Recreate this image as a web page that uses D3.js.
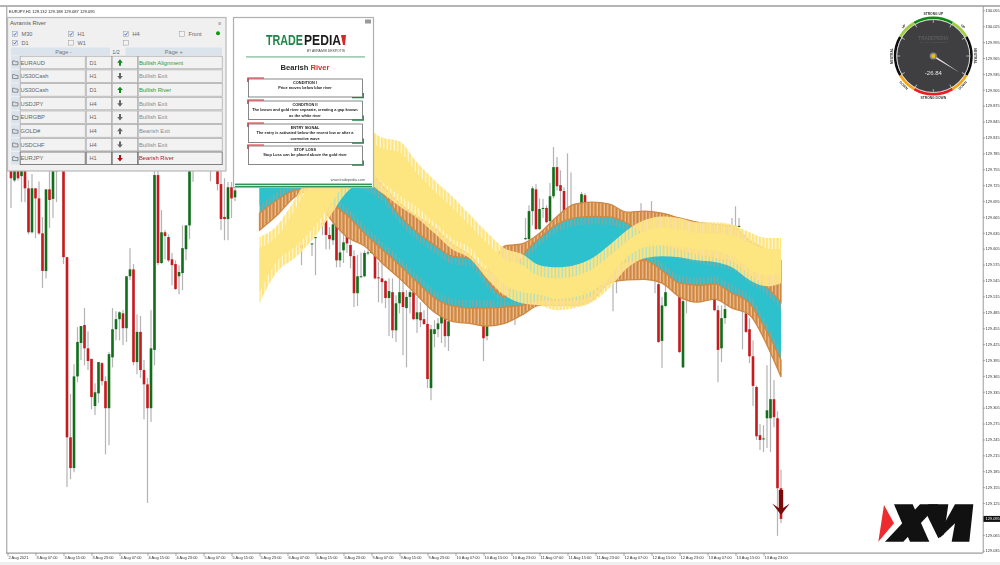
<!DOCTYPE html>
<html><head><meta charset="utf-8">
<script src="https://cdn.jsdelivr.net/npm/d3@7"></script>
<style>html,body{margin:0;padding:0;background:#fff;overflow:hidden}svg{display:block;filter:blur(.4px)}text{font-family:"Liberation Sans",Arial,sans-serif}</style>
</head><body><div id="c"></div>
<script>
// ---------- price axis and time axis labels ----------
const priceTicks=[130.055,130.025,129.995,129.965,129.935,129.905,129.875,129.845,129.815,129.785,129.755,129.725,129.695,129.665,129.635,129.605,129.575,129.545,129.515,129.485,129.455,129.425,129.395,129.365,129.335,129.305,129.275,129.245,129.215,129.185,129.155,129.125,129.065,129.035];
const lastPrice=129.095;
const timeLabels=["2 Aug 2021","3 Aug 07:00","3 Aug 15:00","3 Aug 23:00","4 Aug 07:00","4 Aug 15:00","4 Aug 23:00","5 Aug 07:00","5 Aug 15:00","5 Aug 23:00","6 Aug 07:00","6 Aug 15:00","6 Aug 23:00","9 Aug 07:00","9 Aug 15:00","9 Aug 23:00","10 Aug 07:00","10 Aug 15:00","10 Aug 23:00","11 Aug 07:00","11 Aug 15:00","11 Aug 23:00","12 Aug 07:00","12 Aug 15:00","12 Aug 23:00","13 Aug 07:00","13 Aug 15:00","13 Aug 23:00"];
const barsPerLabel=8;

// ---------- candles (bars hidden behind the panels are left out) ----------
const barIndex=[1,2,3,4,5,6,7,8,9,10,
11,12,13,14,16,17,18,19,20,21,
22,23,24,25,26,27,28,29,30,31,
32,33,34,35,36,37,38,39,40,41,
42,43,44,45,46,47,48,49,50,51,
52,53,58,60,61,62,63,64,65,84,
87,88,90,91,92,93,94,95,96,97,
98,99,100,101,102,103,104,105,106,107,
108,109,110,111,112,113,114,115,116,117,
118,119,120,121,122,123,124,125,126,136,
137,145,148,149,150,151,152,153,154,155,
156,157,158,159,160,161,164,165,173,174,
181,184,185,186,187,188,192,193,194,202,
203,204,205,207,208,209,210,211,212,213,
214,215,216,217,218,219,220,221];
const openP=[129.772,129.734,129.772,129.742,129.772,129.719,129.636,129.719,129.700,129.634,
129.563,129.717,129.699,129.751,129.772,129.589,129.249,129.191,129.364,129.427,
129.461,129.417,129.397,129.308,129.332,129.389,129.355,129.304,129.400,129.453,
129.472,129.483,129.455,129.553,129.566,129.391,129.448,129.376,129.349,129.304,
129.414,129.744,129.578,129.636,129.627,129.585,129.576,129.553,129.559,129.604,
129.649,129.768,129.768,129.772,129.727,129.665,129.661,129.721,129.702,129.612,
129.614,129.625,129.651,129.659,129.631,129.621,129.655,129.583,129.602,129.634,
129.612,129.591,129.521,129.551,129.553,129.597,129.597,129.597,129.551,129.549,
129.544,129.512,129.523,129.451,129.502,129.523,129.493,129.514,129.523,129.472,
129.485,129.472,129.463,129.342,129.444,129.453,129.464,129.472,129.440,129.463,
129.440,129.476,129.623,129.623,129.676,129.717,129.642,129.680,129.682,129.657,
129.704,129.759,129.725,129.714,129.680,129.683,129.691,129.706,129.544,129.544,
129.649,129.649,129.553,129.538,129.431,129.497,129.514,129.381,129.515,129.510,
129.489,129.417,129.474,129.638,129.646,129.646,129.487,129.483,129.453,129.402,
129.344,129.253,129.246,129.285,129.285,129.321,129.285,129.153];
const highP=[129.772,129.772,129.772,129.772,129.772,129.734,129.746,129.719,129.732,129.665,
129.717,129.772,129.772,129.772,129.772,129.589,129.331,129.387,129.457,129.459,
129.493,129.449,129.397,129.351,129.391,129.391,129.364,129.410,129.493,129.487,
129.487,129.489,129.553,129.606,129.576,129.481,129.478,129.395,129.361,129.489,
129.772,129.772,129.678,129.640,129.632,129.597,129.583,129.574,129.649,129.649,
129.772,129.772,129.772,129.772,129.753,129.738,129.731,129.731,129.719,129.621,
129.615,129.627,129.653,129.668,129.646,129.655,129.659,129.649,129.636,129.640,
129.621,129.602,129.593,129.598,129.602,129.602,129.608,129.602,129.580,129.583,
129.546,129.549,129.549,129.517,129.555,129.546,129.527,129.527,129.527,129.514,
129.504,129.489,129.502,129.461,129.470,129.474,129.483,129.483,129.474,129.470,
129.466,129.480,129.663,129.687,129.723,129.727,129.700,129.699,129.687,129.729,
129.797,129.778,129.753,129.721,129.785,129.749,129.712,129.710,129.555,129.555,
129.691,129.695,129.564,129.564,129.514,129.536,129.527,129.517,129.527,129.517,
129.498,129.498,129.508,129.663,129.685,129.663,129.493,129.498,129.474,129.432,
129.347,129.274,129.272,129.385,129.408,129.357,129.298,129.188];
const lowP=[129.682,129.731,129.734,129.693,129.693,129.632,129.634,129.625,129.631,129.531,
129.549,129.644,129.663,129.693,129.576,129.155,129.170,129.183,129.353,129.395,
129.385,129.376,129.302,129.291,129.314,129.347,129.217,129.234,129.381,129.432,
129.432,129.423,129.429,129.546,129.385,129.368,129.361,129.283,129.125,129.278,
129.385,129.574,129.576,129.585,129.580,129.536,129.527,129.519,129.527,129.583,
129.623,129.731,129.732,129.715,129.640,129.621,129.621,129.663,129.695,129.574,
129.591,129.555,129.631,129.604,129.604,129.612,129.570,129.570,129.578,129.597,
129.568,129.495,129.497,129.551,129.551,129.593,129.595,129.547,129.504,129.502,
129.493,129.440,129.436,129.429,129.483,129.404,129.381,129.483,129.470,129.446,
129.457,129.461,129.342,129.319,129.419,129.438,129.427,129.419,129.412,129.393,
129.432,129.461,129.621,129.621,129.649,129.640,129.640,129.663,129.653,129.653,
129.700,129.715,129.672,129.668,129.678,129.683,129.687,129.687,129.487,129.521,
129.649,129.649,129.521,129.427,129.380,129.495,129.408,129.380,129.483,129.487,
129.353,129.391,129.463,129.638,129.646,129.646,129.415,129.446,129.389,129.308,
129.244,129.225,129.221,129.229,129.221,129.268,129.063,129.087];
const closeP=[129.738,129.772,129.738,129.772,129.719,129.636,129.719,129.700,129.634,129.563,
129.717,129.697,129.772,129.772,129.589,129.249,129.191,129.364,129.429,129.459,
129.417,129.393,129.325,129.334,129.391,129.355,129.304,129.406,129.453,129.472,
129.485,129.455,129.553,129.566,129.391,129.448,129.376,129.349,129.304,129.417,
129.744,129.578,129.636,129.629,129.583,129.574,129.529,129.561,129.606,129.649,
129.772,129.772,129.772,129.727,129.661,129.661,129.721,129.700,129.715,129.606,
129.615,129.627,129.653,129.631,129.623,129.651,129.583,129.598,129.617,129.615,
129.591,129.521,129.553,129.553,129.597,129.598,129.600,129.549,129.549,129.542,
129.512,129.525,129.451,129.502,129.523,129.495,129.514,129.523,129.472,129.485,
129.470,129.463,129.359,129.453,129.453,129.464,129.478,129.440,129.468,129.436,
129.459,129.478,129.625,129.676,129.719,129.642,129.680,129.682,129.655,129.704,
129.759,129.723,129.714,129.672,129.682,129.685,129.708,129.691,129.546,129.546,
129.651,129.651,129.555,129.429,129.498,129.523,129.410,129.506,129.517,129.489,
129.414,129.474,129.491,129.640,129.648,129.648,129.489,129.448,129.402,129.346,
129.251,129.244,129.247,129.300,129.321,129.287,129.153,129.095];

// ---------- the river bands, read every few bars ----------
const riverBars=[72,77,82,87,92,97,102,107,112,117,122,127,132,137,142,147,152,157,162,167,172,177,182,187,192,197,202,207,212,217,221];
const goldTop=[129.627,129.649,129.697,129.753,129.791,129.829,129.832,129.815,129.808,129.768,129.734,129.704,129.670,129.636,129.606,129.595,129.574,129.570,129.574,129.587,129.612,129.640,129.659,129.666,129.663,129.655,129.655,129.651,129.636,129.625,129.625];
const goldBottom=[129.502,129.561,129.587,129.621,129.665,129.712,129.731,129.710,129.685,129.663,129.634,129.604,129.587,129.549,129.517,129.502,129.498,129.489,129.493,129.504,129.531,129.568,129.587,129.591,129.589,129.583,129.580,129.570,129.546,129.534,129.540];
const brownTop=[129.810,129.810,129.810,129.800,129.791,129.781,129.763,129.725,129.691,129.666,129.644,129.614,129.593,129.564,129.610,129.614,129.634,129.666,129.689,129.693,129.689,129.674,129.676,129.672,129.663,129.655,129.651,129.648,129.621,129.602,129.583];
const blueTop=[129.744,129.744,129.744,129.744,129.744,129.738,129.731,129.710,129.668,129.636,129.612,129.591,129.587,129.546,129.514,129.589,129.625,129.651,129.663,129.666,129.665,129.653,129.631,129.612,129.602,129.593,129.587,129.580,129.555,129.532,129.504];
const blueBottom=[129.672,129.697,129.715,129.719,129.693,129.668,129.634,129.604,129.574,129.542,129.512,129.497,129.493,129.493,129.495,129.498,129.508,129.508,129.508,129.517,129.564,129.580,129.583,129.564,129.540,129.536,129.538,129.521,129.502,129.448,129.395];
const brownBottom=[129.640,129.668,129.702,129.715,129.663,129.627,129.610,129.578,129.549,129.517,129.485,129.468,129.464,129.459,129.464,129.480,129.498,129.498,129.498,129.508,129.540,129.546,129.547,129.540,129.514,129.504,129.510,129.493,129.480,129.423,129.363];

// ---------- signal dashboard ----------
const frameRowsM=[["M30",true],["H1",true],["H4",true],["Front",false]];
const frameRowsD=[["D1",true],["W1",false],["",false]];
const symbols=["EURAUD","US30Cash","US30Cash","USDJPY","EURGBP","GOLD#","USDCHF","EURJPY"];
const timeframes=["D1","H1","D1","H4","H1","H4","H4","H1"];
const states=["Bullish Alignment","Bullish Exit","Bullish River","Bullish Exit","Bullish Exit","Bearish Exit","Bullish Exit","Bearish River"];
const directions=["up","down","up","down","down","up","down","down"];

// ---------- rules card ----------
const cardHeads=["CONDITION I","CONDITION II","ENTRY SIGNAL","STOP LOSS"];
const cardLines=[["Price moves below blue river"],["The brown and gold river separate, creating a gap known","as the white river"],["The entry is activated below the recent low or after a","corrective wave"],["Stop Loss can be placed above the gold river"]];

// ---------- sentiment gauge ----------
const gaugeValue=-26.84;
const gaugeZones=[[-30,30,"#0c8a12","STRONG UP"],[30,60,"#9ccf3c","UP"],[60,120,"#0d0d0d","NEUTRAL"],[120,150,"#f5a40c","DOWN"],[150,210,"#ee1c1c","STRONG DOWN"],[210,240,"#f5a40c","DOWN"],[240,300,"#0d0d0d","NEUTRAL"],[300,330,"#9ccf3c","UP"]];

const W=1000,H=565;
const svg=d3.select("#c").append("svg").attr("width",W).attr("height",H).attr("viewBox",[0,0,W,H]);
const x=d3.scaleLinear().domain([0,216]).range([7.5,763.5]);
const y=d3.scaleLinear().domain([129.035,130.055]).range([550.7,10.3]);
const pL=6.5,pR=983,pT=6.5,pB=553;

// hatch patterns, one bar per candle slot
const defs=svg.append("defs");
function hatch(id,bar,gap,bw){
  const p=defs.append("pattern").attr("id",id).attr("patternUnits","userSpaceOnUse").attr("width",x(1)-x(0)).attr("height",8).attr("x",x(0)-bw/2).attr("y",0);
  if(gap)p.append("rect").attr("width",x(1)-x(0)).attr("height",8).attr("fill",gap);
  p.append("rect").attr("width",bw).attr("height",8).attr("fill",bar);
}
hatch("hBrown","#cf8843","#f0c295",2.3);
hatch("hGold","#fde47c","rgba(255,244,196,.6)",2.3);
hatch("hBlue","#8fa69a","#2cc1cd",1.2);
defs.append("clipPath").attr("id","plot").append("rect").attr("x",pL).attr("y",pT).attr("width",pR-pL).attr("height",pB-pT);

// frame
svg.append("rect").attr("x",0).attr("y",5).attr("width",1000).attr("height",2).attr("fill","#b5b5b5");
svg.append("rect").attr("x",6).attr("y",6).attr("width",1.4).attr("height",pB-6).attr("fill","#b5b5b5");
svg.append("rect").attr("x",6).attr("y",pB-.5).attr("width",pR-6).attr("height",1.2).attr("fill","#9a9a9a");
svg.append("rect").attr("x",pR-.3).attr("y",6).attr("width",1).attr("height",pB-6).attr("fill","#9a9a9a");
svg.append("rect").attr("x",0).attr("y",562).attr("width",1000).attr("height",3).attr("fill","#f0f0f0");
svg.append("text").attr("x",9).attr("y",12.6).attr("font-size",4.1).attr("fill","#222").text("EURJPY,H1  129.132 129.188 129.087 129.095");

// axes
const yAxis=d3.axisRight(y).tickValues(priceTicks).tickSize(2).tickFormat(d3.format(".3f"));
const axisY=svg.append("g").attr("transform",`translate(${pR},0)`).call(yAxis);
axisY.select(".domain").remove();
axisY.selectAll("text").attr("font-size",3.95).attr("fill","#333").attr("x",2.5);
axisY.selectAll("line").attr("stroke","#777").attr("stroke-width",.6);
const xAxis=d3.axisBottom(x).tickValues(timeLabels.map((d,i)=>i*barsPerLabel)).tickSize(3).tickFormat((d,i)=>timeLabels[i]);
const axisX=svg.append("g").attr("transform",`translate(0,${pB})`).call(xAxis);
axisX.select(".domain").remove();
axisX.selectAll("text").attr("font-size",3.95).attr("fill","#333").attr("text-anchor","start").attr("x",.5).attr("y",3.2).attr("dy",".7em");
axisX.selectAll("line").attr("stroke","#777").attr("stroke-width",.6);

// candles
const plot=svg.append("g").attr("clip-path","url(#plot)");
const candles=barIndex.map((b,i)=>({b,o:openP[i],h:highP[i],l:lowP[i],c:closeP[i]}));
plot.append("g").selectAll("rect").data(candles).join("rect")
  .attr("x",d=>x(d.b)-.6).attr("width",1.2).attr("y",d=>y(d.h)).attr("height",d=>y(d.l)-y(d.h)).attr("fill","#b4b4b4");
plot.append("g").selectAll("rect").data(candles).join("rect")
  .attr("x",d=>x(d.b)-1.3).attr("width",2.6)
  .attr("y",d=>y(Math.max(d.o,d.c))).attr("height",d=>Math.max(1,Math.abs(y(d.o)-y(d.c))))
  .attr("fill",d=>d.c>=d.o?"#106f18":"#c71a1e");

// river
const rows=riverBars.map((b,i)=>({b,gT:goldTop[i],gB:goldBottom[i],uT:brownTop[i],uB:blueTop[i],lT:blueBottom[i],lB:brownBottom[i]}));
const band=(a,b,inset=0)=>d3.area().curve(d3.curveMonotoneX).x(d=>x(d.b))
  .y0(d=>{const t=y(d[a]),u=y(d[b]);return Math.min(t+inset,(t+u)/2)})
  .y1(d=>{const t=y(d[a]),u=y(d[b]);return Math.max(u-inset,(t+u)/2)});
const river=plot.append("g");
river.append("path").attr("d",band("uB","lT")(rows)).attr("fill","url(#hBlue)");
river.append("path").attr("d",band("uB","lT",8)(rows)).attr("fill","#2cc1cd");
for(const [a,b] of [["uT","uB"],["lT","lB"]]){
  river.append("path").attr("d",band(a,b)(rows)).attr("fill","url(#hBrown)").attr("stroke","#cf8843").attr("stroke-width",1.3);
}
river.append("path").attr("d",band("gT","gB")(rows)).attr("fill","url(#hGold)");
river.append("path").attr("d",band("gT","gB",11)(rows)).attr("fill","#fde57f");

// entry arrow on the last bar
const last=candles[candles.length-1];
svg.append("path").attr("transform",`translate(${x(last.b)},${y(last.c)})`)
  .attr("d","M-2.2,-29V-11L-8.8,-15.5L0,-4L8.8,-15.5L2.2,-11V-29Z").attr("fill","#7a0a0a");

// last price flag
svg.append("rect").attr("x",pR+.5).attr("y",y(lastPrice)-3).attr("width",16.5).attr("height",6).attr("fill","#111");
svg.append("text").attr("x",pR+2.5).attr("y",y(lastPrice)+1.4).attr("font-size",3.95).attr("fill","#fff").text(d3.format(".3f")(lastPrice));

// XM logo
const xm=svg.append("g").attr("transform","translate(870,495) scale(.3333)");
xm.append("path").attr("d","M42,30L72,85L25,140Z").attr("fill","#ee2a2f");
[["M72,28H128L178,140H120Z"],["M45,140H100L205,28H150Z"],["M175,28H235L222,118L205,130L172,62Z"],["M255,28H310L298,140H245L255,85L210,128L215,100Z"]]
  .forEach(d=>xm.append("path").attr("d",d[0]).attr("fill","#111"));

// gauge
const cx0=933.3,cy0=56,R=36.5;
const g=svg.append("g").attr("transform",`translate(${cx0},${cy0})`);
const rad=d=>d*Math.PI/180;
const arc=d3.arc();
gaugeZones.forEach(z=>{
  g.append("path").attr("d",arc({innerRadius:R+.3,outerRadius:R+3,startAngle:rad(z[0]),endAngle:rad(z[1])})).attr("fill",z[2]);
  const mid=(z[0]+z[1])/2;
  const flip=mid>100&&mid<260;
  g.append("text").attr("transform",`rotate(${mid}) translate(0,${flip?-R-6.3:-R-4.2}) rotate(${flip?180:0})`)
    .attr("text-anchor","middle").attr("font-size",3.3).attr("font-weight","bold").attr("fill","#333").text(z[3]);
});
g.append("circle").attr("r",R).attr("fill","#3f3f41").attr("stroke","#d9d9d9").attr("stroke-width",.9);
d3.range(0,360,30).forEach(a=>g.append("line").attr("transform",`rotate(${a})`).attr("y1",-R+.4).attr("y2",-R+3.4).attr("stroke","#ddd").attr("stroke-width",.7));
g.append("text").attr("y",-16.5).attr("text-anchor","middle").attr("font-size",4.6).attr("font-weight","bold").attr("fill","#5c5c5e").text("TRADEPEDIA");
g.append("text").attr("y",-12.8).attr("text-anchor","middle").attr("font-size",2.4).attr("fill","#5c5c5e").text("BY AVRAMIS DESPOTIS");
g.append("text").attr("y",19).attr("text-anchor","middle").attr("font-size",6).attr("fill","#e6e6e6").text(gaugeValue.toFixed(2));
const needle=d3.scaleLinear().domain([100,-100]).range([-30,210]);
g.append("path").attr("transform",`rotate(${needle(gaugeValue)})`).attr("d","M-1,0L0,-31L1,0Z").attr("fill","#e6e6e6");
g.append("circle").attr("r",3.6).attr("fill","#8a8a8a");
g.append("circle").attr("r",1.9).attr("fill","#f2c200");

// dashboard panel
const p1=svg.append("g");
p1.append("rect").attr("x",7.5).attr("y",17.5).attr("width",218.5).attr("height",153.5).attr("fill","#f0f0f0").attr("stroke","#b8b8b8").attr("stroke-width",1.2);
p1.append("text").attr("x",10).attr("y",24.8).attr("font-size",5.8).attr("fill","#555").text("Avramis River");
p1.append("text").attr("x",218).attr("y",24.8).attr("font-size",5.4).attr("fill","#888").text("≡");
function box(bx,yy,label,on){
  p1.append("rect").attr("x",bx-2.4).attr("y",yy-2.4).attr("width",4.8).attr("height",4.8).attr("fill",on?"#e8eefc":"#f4f4f4").attr("stroke","#999").attr("stroke-width",.5);
  if(on)p1.append("path").attr("d",`M${bx-1.4},${yy}l1,1.3l2,-2.8`).attr("fill","none").attr("stroke","#2a4aa0").attr("stroke-width",.7);
  if(label)p1.append("text").attr("x",bx+6.5).attr("y",yy+2).attr("font-size",5.6).attr("fill","#666").text(label);
}
const colX=[15,71,126,182];
frameRowsM.forEach((d,i)=>box(colX[i],34,d[0],d[1]));
frameRowsD.forEach((d,i)=>box(colX[i],42.7,d[0],d[1]));
p1.append("circle").attr("cx",218).attr("cy",33.3).attr("r",2).attr("fill","#0a9a0a");
[[11,99,"Page -"],[125.5,96.5,"Page +"]].forEach(d=>{
  p1.append("rect").attr("x",d[0]).attr("y",47.5).attr("width",d[1]).attr("height",8).attr("fill","#dbe3ec");
  p1.append("text").attr("x",d[0]+d[1]/2+(d[0]<50?3:0)).attr("y",53.7).attr("text-anchor","middle").attr("font-size",5.6).attr("fill","#777").text(d[2]);
});
p1.append("text").attr("x",116).attr("y",53.5).attr("text-anchor","middle").attr("font-size",5.4).attr("fill","#666").text("1/2");
const rowColor={Bullish:"#2c9a32",Bearish:"#a81c22"};
const rowY=d3.scaleLinear().domain([0,7]).range([62.5,158.3]);
symbols.forEach((s,i)=>{
  const cy=rowY(i),act=i===7,h=12.6;
  const strong=i===0||i===2||i===7;
  const tc=strong?rowColor[states[i].split(" ")[0]]:"#8a8a8a";
  p1.append("rect").attr("x",11).attr("y",cy-h/2).attr("width",9).attr("height",h).attr("fill","#dbe3ec");
  [[20,65],[86,25.5],[112,25.5],[138,84]].forEach(c=>{
    p1.append("rect").attr("x",c[0]+.2).attr("y",cy-h/2).attr("width",c[1]).attr("height",h).attr("fill","#f2f2f2").attr("stroke",act?"#666":"#9c9c9c").attr("stroke-width",act?.8:.6);
  });
  p1.append("path").attr("d",`M12.6,${cy-1.6}h2.2l.6,.8h2.6v3.1h-5.4z`).attr("fill","none").attr("stroke","#555").attr("stroke-width",.6);
  p1.append("text").attr("x",20.5).attr("y",cy+2).attr("font-size",5.8).attr("fill","#666").text(s);
  p1.append("text").attr("x",93).attr("y",cy+2).attr("text-anchor","middle").attr("font-size",5.6).attr("fill","#666").text(timeframes[i]);
  const col=strong?(directions[i]==="up"?"#148a1e":"#a81212"):"#666";
  p1.append("path").attr("transform",`translate(120,${cy}) scale(${directions[i]==="up"?1:-1})`).attr("d","M0,-3.2L2.8,.2H1V3.2H-1V.2H-2.8Z").attr("fill",col);
  p1.append("text").attr("x",139).attr("y",cy+2).attr("font-size",5.8).attr("fill",tc).text(states[i]);
});

// rules card
const p2=svg.append("g");
p2.append("rect").attr("x",233.5).attr("y",17.5).attr("width",140).attr("height",170).attr("fill","#fff").attr("stroke","#b0b0b0").attr("stroke-width",1.2);
p2.append("rect").attr("x",365).attr("y",19.5).attr("width",6).attr("height",4).attr("fill","#999");
p2.append("text").attr("x",266).attr("y",45).attr("font-size",14).attr("font-weight","bold").attr("textLength",37).attr("lengthAdjust","spacingAndGlyphs").attr("fill","#1f8548").text("TRADE");
p2.append("text").attr("x",304).attr("y",45).attr("font-size",14).attr("font-weight","bold").attr("textLength",37).attr("lengthAdjust","spacingAndGlyphs").attr("fill","#1b1b1b").text("PEDIA");
p2.append("path").attr("d","M341,35H346L345,45H343Z").attr("fill","#d9262c");
p2.append("text").attr("x",345).attr("y",51.6).attr("text-anchor","end").attr("font-size",3.4).attr("fill","#444").text("BY AVRAMIS DESPOTIS");
p2.append("rect").attr("x",246).attr("y",56.3).attr("width",119).attr("height",1.2).attr("fill","#7fb795");
p2.append("text").attr("x",305).attr("y",70).attr("text-anchor","middle").attr("font-size",7.6).attr("font-weight","bold")
  .call(t=>{t.append("tspan").attr("fill","#2a2a2a").text("Bearish ");t.append("tspan").attr("fill","#e52a2a").text("River");});
const boxY=[79,101,124,146],boxH=[18,18.5,18.5,18.5];
cardHeads.forEach((h,i)=>{
  const by=boxY[i];
  p2.append("rect").attr("x",248.5).attr("y",by).attr("width",114).attr("height",boxH[i]).attr("fill","#fff").attr("stroke","#555").attr("stroke-width",.7);
  p2.append("path").attr("d",`M247.8,${by+3}V${by-1}H264`).attr("fill","none").attr("stroke","#d6282e").attr("stroke-width",1.1);
  p2.append("path").attr("d",`M363.3,${by+boxH[i]-4}V${by+boxH[i]+.6}H352`).attr("fill","none").attr("stroke","#1f8548").attr("stroke-width",1.2);
  p2.append("text").attr("x",305).attr("y",by+5.3).attr("text-anchor","middle").attr("font-size",3.9).attr("font-weight","bold").attr("fill","#222").text(h);
  cardLines[i].forEach((l,k)=>p2.append("text").attr("x",305).attr("y",by+10.3+k*5.3).attr("text-anchor","middle").attr("font-size",3.9).attr("font-weight","bold").attr("fill","#222").text(l));
});
p2.append("text").attr("x",365).attr("y",180.5).attr("text-anchor","end").attr("font-size",3.7).attr("fill","#555").text("www.tradepedia.com");
p2.append("rect").attr("x",235).attr("y",183.6).attr("width",137).attr("height",1.3).attr("fill","#1f8548");
p2.append("rect").attr("x",235).attr("y",185.8).attr("width",137).attr("height",1.1).attr("fill","#1f8548");
</script>
</body></html>
